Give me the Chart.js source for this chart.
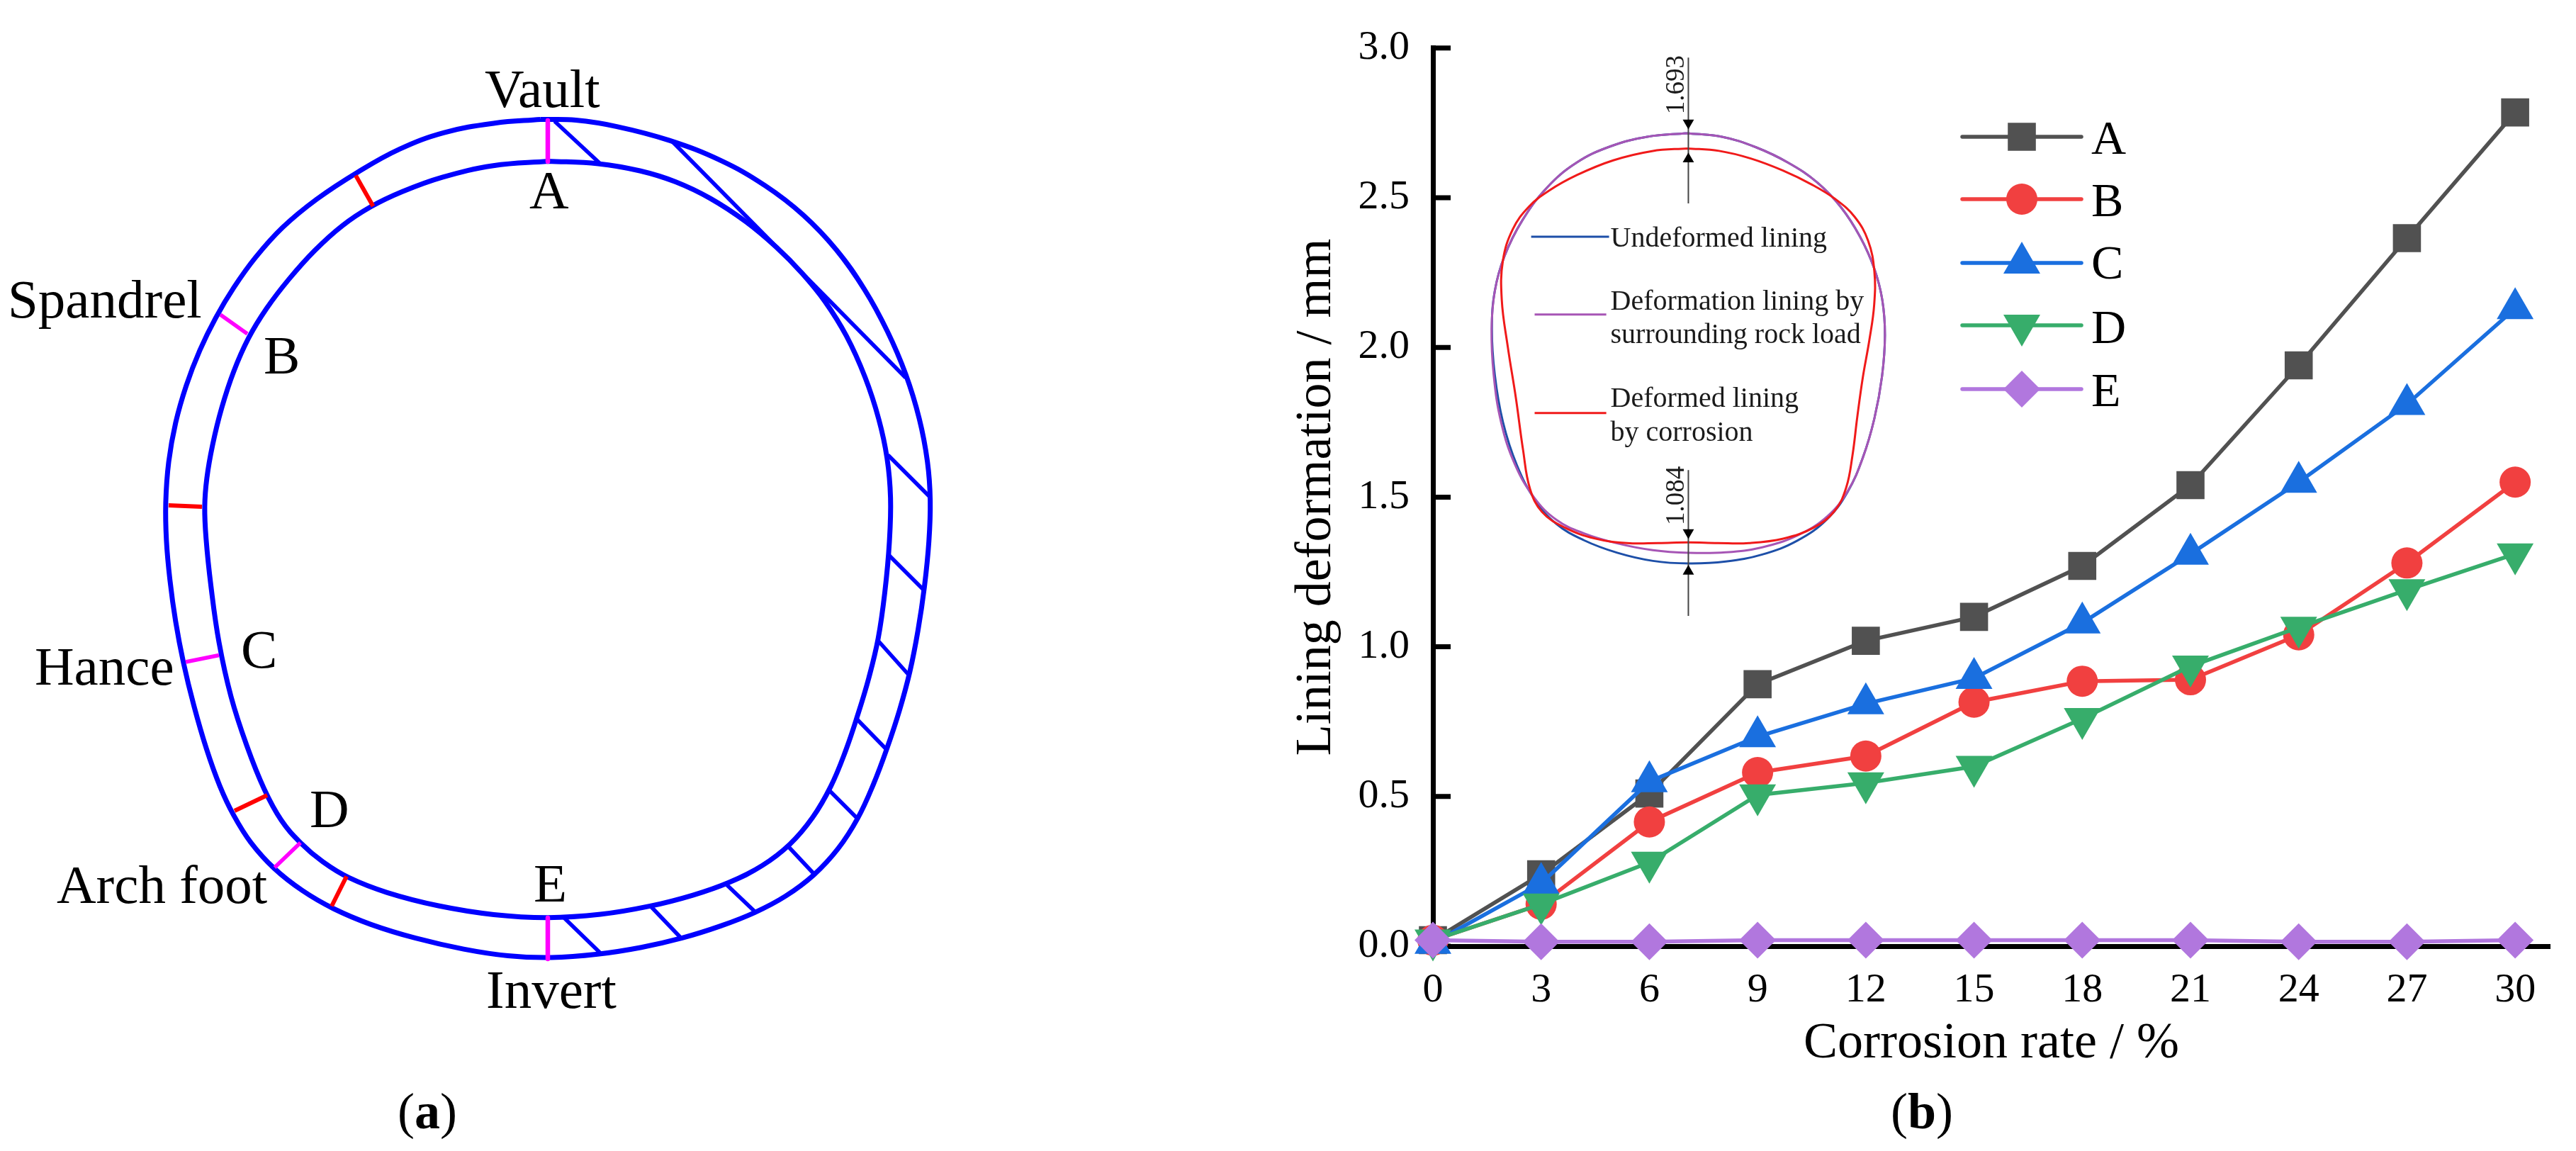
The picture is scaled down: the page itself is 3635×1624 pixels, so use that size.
<!DOCTYPE html>
<html><head><meta charset="utf-8">
<style>
html,body{margin:0;padding:0;background:#fff;width:3635px;height:1624px;overflow:hidden}
canvas{position:absolute;display:block}
.cap{position:absolute;font:72px "Liberation Serif",serif;color:#000;line-height:72px;transform:translateX(-50%);white-space:nowrap}
</style>
<script src="https://cdn.jsdelivr.net/npm/chart.js@4/dist/chart.umd.min.js"></script>
</head><body>
<canvas id="diagram" width="1450" height="1564" style="left:0;top:60px;width:1450px;height:1564px"></canvas>
<canvas id="main" width="1935" height="1624" style="left:1700px;top:0;width:1935px;height:1624px"></canvas>
<canvas id="inset" width="1000" height="900" style="left:1800px;top:30px;width:1000px;height:900px"></canvas>
<div class="cap" style="left:603px;top:1532px">(<b>a</b>)</div>
<div class="cap" style="left:2712px;top:1532px">(<b>b</b>)</div>
<script>
// ---- panel (b) data ----
const corrosionRate = [0,3,6,9,12,15,18,21,24,27,30];
const seriesNames = ["A","B","C","D","E"];
const seriesA = [0.02,0.24,0.51,0.875,1.02,1.10,1.27,1.54,1.94,2.365,2.785];
const seriesB = [0.02,0.14,0.415,0.58,0.635,0.815,0.885,0.89,1.04,1.28,1.55];
const seriesC = [0.01,0.21,0.55,0.70,0.81,0.895,1.08,1.31,1.55,1.81,2.13];
const seriesD = [0.02,0.14,0.28,0.505,0.545,0.60,0.76,0.935,1.065,1.19,1.31];
const seriesE = [0.02,0.015,0.015,0.02,0.02,0.02,0.02,0.02,0.015,0.015,0.02];
const yTickValues = [0,0.5,1,1.5,2,2.5,3];

// ---- panel (a) outline, in the diagram's own units ----
const outerLining = [[773,170],[807,170],[865,177.5],[949,199],[1018,226.5],[1079,263],[1133,303],[1179,351],[1221,410],[1251,468],[1278,527],[1297,590],[1309,655],[1312,705],[1311,760],[1304,833],[1295,886],[1284,951],[1270,997],[1251,1058.5],[1232,1104],[1211,1156],[1182,1196],[1150,1234.5],[1106,1265],[1066,1287],[1018,1305],[962,1324.5],[903,1336],[848,1345.5],[773,1352],[717,1347.5],[659,1340],[583,1322.5],[525,1305],[468,1280.5],[430,1257.5],[386,1225],[353,1189],[330,1146.5],[311,1112],[292,1058.5],[273,993],[259,934],[248,879],[240,817],[235,760],[234,714],[238,647.5],[248,598],[263,544],[282,494],[305,448.5],[330,406],[361,364],[399,320],[445,282],[506,244],[567,209],[621,188],[697.5,173],[773,170]];
const innerLining = [[773,228],[846,231],[903,242],[953,257],[999,278],[1056,314.5],[1094,349],[1133,387],[1163,425.5],[1194,471.5],[1221,533],[1240,594],[1251,644],[1257,705],[1255,760],[1247.5,836.5],[1240,905],[1226,951],[1209,1013],[1194,1055],[1171,1114],[1148,1150],[1112,1194],[1079,1219],[1024,1247],[980,1261],[918,1278.5],[846,1290],[773,1295],[697.5,1290],[621,1278.5],[544,1259],[489,1236.5],[460,1217],[424,1189],[395,1154],[376,1120],[347,1047],[326,982],[309,913],[298,821],[291,760],[289,714.5],[292,678],[300,628],[313,575],[330,525],[351,475],[376,437],[407,395],[445,353],[483,318],[525,291],[567,272.5],[621,251],[697.5,232],[773,228]];
const hatchSegments = [[782.5,171,846,230],[949,200,1278,533],[1253,642,1312,701],[1255,784,1304,833],[1240,905,1283,953],[1209,1014.5,1252,1058.5],[1171,1116,1211,1156],[1112,1194,1150,1234.5],[1024,1247,1066,1287],[918,1278.5,962,1324.5],[796,1295,848,1345.5]];
const magentaSegments = [[773,170,773,228],[311,444,349,471],[262,934,309,924.5],[387.5,1224,424,1189],[773,1295,773,1353]];
const redSegments = [[502,247.6,526.5,291],[238,713,285,715],[331,1144,377,1122],[468,1278.5,489,1236.5]];
const diagramLabels = ["Vault","A","Spandrel","B","Hance","C","D","Arch foot","E","Invert"];
const diagramLabelAnchors = [[684,151],[747,293.5],[11,448],[372,527],[49,966],[340,942],[437,1167],[80,1274],[753,1272],[686,1422]];

// ---- inset outlines, in the inset's own units ----
const undeformedLining = [[2384,182],[2431,187],[2480,202],[2529,226],[2570,253],[2602,287],[2631,332],[2651,377],[2662,422],[2667,471],[2662,532],[2651,594],[2635,647],[2611,700],[2586,736],[2541,769],[2488,789],[2439,798],[2384,801],[2333,798],[2284,787],[2231,765],[2194,745],[2166,712],[2137,659],[2117,598],[2107,532],[2101,459],[2107,410],[2119,361],[2145,308],[2182,259],[2223,224],[2272,202],[2325,187],[2384,182]];
const rockLoadLining = [[2384,182],[2431,187],[2480,202],[2529,226],[2570,253],[2602,287],[2631,332],[2651,377],[2662,422],[2667,471],[2662,532],[2651,594],[2635,647],[2611,700],[2586,732],[2541,761],[2488,779],[2439,785],[2384,785],[2333,783],[2284,773],[2231,755],[2194,740],[2166,708],[2133,659],[2115,598],[2105,532],[2101,459],[2107,410],[2119,361],[2145,308],[2182,259],[2223,224],[2272,202],[2325,187],[2384,182]];
const corrodedLining = [[2384,205],[2427,207],[2472,218],[2521,236],[2562,257],[2594,277],[2623,302],[2643,336],[2651,381],[2651,430],[2645,479],[2633,532],[2627,594],[2619,643],[2611,696],[2594,724],[2566,749],[2521,767],[2468,772],[2427,772],[2384,770],[2341,772],[2296,772],[2251,767],[2207,749],[2170,724],[2158,696],[2147,643],[2137,557],[2125,492],[2115,418],[2117,369],[2131,318],[2158,287],[2182,267],[2223,243],[2276,220],[2333,207],[2384,205]];
const dimensionSegments = [[2384,73,2384,283],[2384,667,2384,877]];
const arrowsDown = [[2384,167],[2384,757]];
const arrowsUp = [[2384,219],[2384,813]];
const insetLegendSegments = [[2158,331,2270,331],[2163,443,2266,443],[2163,585,2266,585]];
const insetTexts = ["Undeformed lining","Deformation lining by","surrounding rock load","Deformed lining","by corrosion"];
const insetTextAnchors = [[2272,345],[2272,436],[2272,484],[2272,576],[2272,625]];
const dimensionTexts = ["1.693","1.084"];
const dimensionTextAnchors = [[2377,112],[2377,704]];

const SERIF = '"Liberation Serif","Times New Roman",serif';
const toXY = a => a.map(p => ({x:p[0],y:p[1]}));
// Removes the reading jitter of a hand-read closed outline without shrinking it.
function evenOutLoop(loop,rounds){
  let p=loop.slice(0,-1).map(q=>q.slice());
  const step=f=>{const n=p.length;p=p.map((q,i)=>{const a=p[(i+n-1)%n],b=p[(i+1)%n];return [q[0]+f*((a[0]+b[0])/2-q[0]),q[1]+f*((a[1]+b[1])/2-q[1])]})};
  for(let r=0;r<rounds;r++){step(0.33);step(-0.34)}
  return [...p,p[0]];
}
const segDataset = (s,color,width,cap) => ({data:[{x:s[0],y:s[1]},{x:s[2],y:s[3]}],showLine:true,borderColor:color,borderWidth:width,pointRadius:0,borderCapStyle:cap||'butt',clip:false});
const curve = (pts,color,width,tension) => ({data:toXY(evenOutLoop(pts,6)),showLine:true,borderColor:color,borderWidth:width,pointRadius:0,tension:tension,borderJoinStyle:'round',clip:false});
const silentOpts = (x0,x1,y0,y1) => ({responsive:false,animation:false,devicePixelRatio:1,events:[],
  layout:{padding:0},
  plugins:{legend:{display:false},tooltip:{enabled:false},title:{display:false}},
  scales:{x:{type:'linear',display:false,min:x0,max:x1},y:{type:'linear',display:false,min:y0,max:y1,reverse:true}}});

// ---- panel (a) ----
new Chart(document.getElementById('diagram'),{type:'scatter',
  data:{datasets:[
    ...magentaSegments.map((s,i)=>segDataset(s,'#ff00ff',i===0||i===4?6.5:5.5,i===0||i===4?'round':'butt')),
    ...redSegments.map(s=>segDataset(s,'#ff0000',6)),
    ...hatchSegments.map(s=>segDataset(s,'#0000ff',5.5)),
    curve(outerLining,'#0000ff',7,0.4),
    curve(innerLining,'#0000ff',7,0.4)
  ]},
  options:silentOpts(0,1450,60,1624),
  plugins:[{id:'diagramText',afterDraw(c){
    const g=c.ctx;g.save();g.fillStyle='#000';g.font='77px '+SERIF;g.textBaseline='alphabetic';g.textAlign='left';
    diagramLabels.forEach((t,i)=>g.fillText(t,c.scales.x.getPixelForValue(diagramLabelAnchors[i][0]),c.scales.y.getPixelForValue(diagramLabelAnchors[i][1])));
    g.restore();
  }}]
});

// ---- panel (b) main chart ----
const colors = ['#515151','#F14040','#1A6FDF','#37AD6B','#B177DE'];
const styles = [
 {pointStyle:'rect',pointRadius:28,pointRotation:0},
 {pointStyle:'circle',pointRadius:22,pointRotation:0},
 {pointStyle:'triangle',pointRadius:30,pointRotation:0},
 {pointStyle:'triangle',pointRadius:30,pointRotation:180},
 {pointStyle:'rectRot',pointRadius:26,pointRotation:0}
];
const allSeries = [seriesA,seriesB,seriesC,seriesD,seriesE];
const legendRows = [[193,217],[281,305],[371,393],[459,484],[549,573]];
new Chart(document.getElementById('main'),{type:'line',
  data:{datasets:allSeries.map((v,i)=>({
    label:seriesNames[i],
    data:v.map((y,k)=>({x:corrosionRate[k],y})),
    borderColor:colors[i],backgroundColor:colors[i],borderWidth:5.5,
    pointBackgroundColor:colors[i],pointBorderColor:colors[i],pointBorderWidth:0,
    order:5-i,clip:false,tension:0,...styles[i]
  }))},
  options:{responsive:false,animation:false,devicePixelRatio:1,events:[],
    layout:{padding:{top:67,right:37,left:0,bottom:0}},
    plugins:{legend:{display:false},tooltip:{enabled:false}},
    scales:{
      x:{type:'linear',min:0,max:30.96,afterFit:s=>{s.height=289},
        afterBuildTicks:s=>{s.ticks=corrosionRate.map(v=>({value:v}))},
        grid:{display:false,drawTicks:false},border:{display:true,color:'#000',width:7},
        ticks:{color:'#000',font:{family:SERIF,size:58},padding:28,maxRotation:0,autoSkip:false,callback:v=>String(v)},
        title:{display:true,text:'Corrosion rate / %',color:'#000',font:{family:SERIF,size:72},padding:{top:0,bottom:108}}},
      y:{type:'linear',min:0,max:3,afterFit:s=>{s.width=322},
        afterBuildTicks:s=>{s.ticks=yTickValues.map(v=>({value:v}))},
        grid:{display:false,drawTicks:false},border:{display:true,color:'#000',width:7},
        ticks:{color:'#000',font:{family:SERIF,size:58},padding:33,callback:v=>v.toFixed(1)},
        title:{display:true,text:'Lining deformation / mm',color:'#000',font:{family:SERIF,size:72},padding:{top:115,bottom:0}}}
    }},
  plugins:[{id:'innerTicks',beforeDatasetsDraw(c){
    const g=c.ctx,xs=c.scales.x,ys=c.scales.y;g.save();g.strokeStyle='#000';g.lineWidth=7;g.beginPath();
    yTickValues.forEach(v=>{const p=ys.getPixelForValue(v);g.moveTo(xs.left,p);g.lineTo(xs.left+25,p)});
    corrosionRate.forEach(v=>{const p=xs.getPixelForValue(v);g.moveTo(p,ys.bottom);g.lineTo(p,ys.bottom-25)});
    g.stroke();g.restore();
  },afterDraw(c){
    const g=c.ctx;g.save();
    c.data.datasets.forEach((d,i)=>{
      const r=legendRows[i];
      g.strokeStyle=d.borderColor;g.lineWidth=5.5;g.lineCap='round';g.beginPath();g.moveTo(1069,r[0]);g.lineTo(1237,r[0]);g.stroke();
      g.fillStyle=d.backgroundColor;g.strokeStyle=d.backgroundColor;g.lineWidth=0;
      Chart.helpers.drawPoint(g,{pointStyle:d.pointStyle,radius:d.pointRadius,rotation:d.pointRotation,borderWidth:0},1153,r[0]);
      g.fillStyle='#000';g.font='68px '+SERIF;g.textAlign='left';g.textBaseline='alphabetic';
      g.fillText(d.label,1251,r[1]);
    });
    g.restore();
  }}]
});

// ---- inset ----
new Chart(document.getElementById('inset'),{type:'scatter',
  data:{datasets:[
    {data:toXY(arrowsDown),showLine:false,pointStyle:'triangle',pointRadius:9.2,pointRotation:180,pointBackgroundColor:'#000',pointBorderWidth:0},
    {data:toXY(arrowsUp),showLine:false,pointStyle:'triangle',pointRadius:9.2,pointRotation:0,pointBackgroundColor:'#000',pointBorderWidth:0},
    ...dimensionSegments.map(s=>segDataset(s,'#444',2)),
    curve(corrodedLining,'#f01a1a',3,0.4),
    curve(rockLoadLining,'#a655b5',3,0.4),
    curve(undeformedLining,'#1d4fa8',3,0.4),
    segDataset(insetLegendSegments[0],'#1d4fa8',3),
    segDataset(insetLegendSegments[1],'#a655b5',3),
    segDataset(insetLegendSegments[2],'#f01a1a',3)
  ]},
  options:silentOpts(1800,2800,30,930),
  plugins:[{id:'insetText',afterDraw(c){
    const g=c.ctx,X=c.scales.x,Y=c.scales.y;g.save();g.fillStyle='#1a1a1a';g.font='40px '+SERIF;g.textBaseline='alphabetic';g.textAlign='left';
    insetTexts.forEach((t,i)=>g.fillText(t,X.getPixelForValue(insetTextAnchors[i][0]),Y.getPixelForValue(insetTextAnchors[i][1])));
    g.font='37px '+SERIF;g.textAlign='center';
    dimensionTexts.forEach((t,i)=>{g.save();g.translate(X.getPixelForValue(dimensionTextAnchors[i][0]),Y.getPixelForValue(dimensionTextAnchors[i][1]));g.rotate(-Math.PI/2);g.fillText(t,0,0);g.restore();});
    g.restore();
  }}]
});
</script>
</body></html>
